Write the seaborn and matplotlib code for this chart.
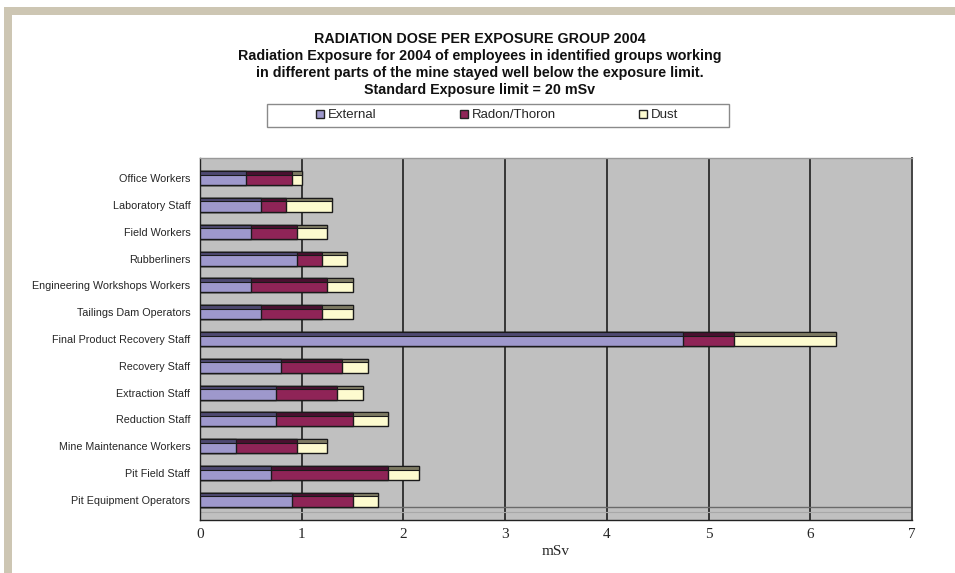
import matplotlib
matplotlib.use("Agg")
import matplotlib.pyplot as plt
import matplotlib.patches as mpatches
import seaborn as sns
import numpy as np
import pandas as pd

# Exposure groups and their annual dose components (mSv)
groups = [
    "Office Workers", "Laboratory Staff", "Field Workers", "Rubberliners",
    "Engineering Workshops Workers", "Tailings Dam Operators",
    "Final Product Recovery Staff", "Recovery Staff", "Extraction Staff",
    "Reduction Staff", "Mine Maintenance Workers", "Pit Field Staff",
    "Pit Equipment Operators",
]
external = [0.45, 0.60, 0.50, 0.95, 0.50, 0.60, 4.75, 0.80, 0.75, 0.75, 0.35, 0.70, 0.90]
radon_thoron = [0.45, 0.25, 0.45, 0.25, 0.75, 0.60, 0.50, 0.60, 0.60, 0.75, 0.60, 1.15, 0.60]
dust = [0.10, 0.45, 0.30, 0.25, 0.25, 0.30, 1.00, 0.25, 0.25, 0.35, 0.30, 0.30, 0.25]
series_names = ["External", "Radon/Thoron", "Dust"]
x_ticks = [0, 1, 2, 3, 4, 5, 6, 7]

face_colors = ["#9e98cc", "#8f2457", "#fdfbcf"]
top_colors = ["#4d4870", "#4a1030", "#7d7a62"]

df = pd.DataFrame({"group": groups, "External": external,
                   "Radon/Thoron": radon_thoron, "Dust": dust})
df["c1"] = df["External"]
df["c2"] = df["c1"] + df["Radon/Thoron"]
df["c3"] = df["c2"] + df["Dust"]

sns.set_theme(style="white")
plt.rcParams["font.family"] = ["Liberation Sans", "DejaVu Sans"]

fig = plt.figure(figsize=(9.55, 5.73), dpi=100)
fig.patch.set_facecolor("white")

# tan page frame along the top and left
frame = "#cdc6b3"
fig.add_artist(mpatches.Rectangle((0.004, 0.974), 0.996, 0.013, transform=fig.transFigure,
                                  facecolor=frame, edgecolor="none"))
fig.add_artist(mpatches.Rectangle((0.004, 0.0), 0.009, 0.987, transform=fig.transFigure,
                                  facecolor=frame, edgecolor="none"))

ax = fig.add_axes([0.2094, 0.0925, 0.7455, 0.6318])
ax.set_facecolor("#c0c0c0")

bar_h = 0.52
# stacked bars: draw cumulative totals from the longest segment down
for col, color in zip(["c3", "c2", "c1"], face_colors[::-1]):
    sns.barplot(data=df, x=col, y="group", orient="h", color=color, width=bar_h,
                edgecolor="#1a1a1a", linewidth=1.0, saturation=1, ax=ax, zorder=3)

# darker top face on each segment for the raised look
ypos = np.arange(len(groups))
band = 0.13
starts = [np.zeros(len(groups)), df["c1"].values, df["c2"].values]
widths = [df["External"].values, df["Radon/Thoron"].values, df["Dust"].values]
for s, w, c in zip(starts, widths, top_colors):
    ax.barh(ypos - bar_h / 2 + band / 2, w, left=s, height=band, color=c,
            edgecolor="#1a1a1a", linewidth=0.8, zorder=4)

ax.set_xlim(0, 7)
ax.set_ylim(12.75, -0.75)

# vertical gridlines
for v in x_ticks[1:-1]:
    ax.axvline(v, color="#111111", linewidth=1.1, zorder=2)
# floor edge
ax.axhline(12.28, color="#6a6a6a", linewidth=1.0, zorder=2)
ax.axhline(12.45, color="#a8a8a8", linewidth=0.8, zorder=2)

ax.set_xticks(x_ticks)
ax.set_xticklabels([str(t) for t in x_ticks], fontfamily="Liberation Serif", fontsize=11)
ax.tick_params(axis="x", length=3, color="#555555", pad=3)
ax.set_yticks(ypos)
ax.set_yticklabels(groups, fontsize=7.75)
ax.tick_params(axis="y", length=0, pad=7)
ax.set_yticks(np.arange(-0.5, 13, 1), minor=True)
ax.tick_params(axis="y", which="minor", length=4, color="#888888")

ax.set_xlabel("mSv", fontfamily="Liberation Serif", fontsize=11, labelpad=3)
ax.set_ylabel("")

for side in ["left", "bottom"]:
    ax.spines[side].set_color("#222222")
    ax.spines[side].set_linewidth(1.0)
ax.spines["right"].set_color("#444444")
ax.spines["right"].set_linewidth(1.4)
ax.spines["top"].set_color("#999999")
ax.spines["top"].set_linewidth(1.0)

title_lines = [
    "RADIATION DOSE PER EXPOSURE GROUP 2004",
    "Radiation Exposure for 2004 of employees in identified groups working",
    "in different parts of the mine stayed well below the exposure limit.",
    "Standard Exposure limit = 20 mSv",
]
for i, line in enumerate(title_lines):
    fig.text(0.5025, 1 - (39 + 17 * i) / 573, line, ha="center", va="center",
             fontsize=10.3, fontweight="bold", color="#111111")

# legend box
fig.add_artist(mpatches.Rectangle((267 / 955, 1 - 127 / 573), 462 / 955, 23 / 573,
                                  transform=fig.transFigure, facecolor="white",
                                  edgecolor="#8a8a8a", linewidth=1.0))
handles = [mpatches.Patch(facecolor=c, edgecolor="#222222", linewidth=1.0) for c in face_colors]
leg = fig.legend(handles, series_names, loc="center left", ncol=3,
                 bbox_to_anchor=(316 / 955, 1 - 115.5 / 573), fontsize=9.5,
                 frameon=False, borderpad=0, borderaxespad=0,
                 handlelength=0.6, handleheight=0.6, handletextpad=0.3,
                 columnspacing=6.3)

fig.savefig("out.png", dpi=100, facecolor="white")
